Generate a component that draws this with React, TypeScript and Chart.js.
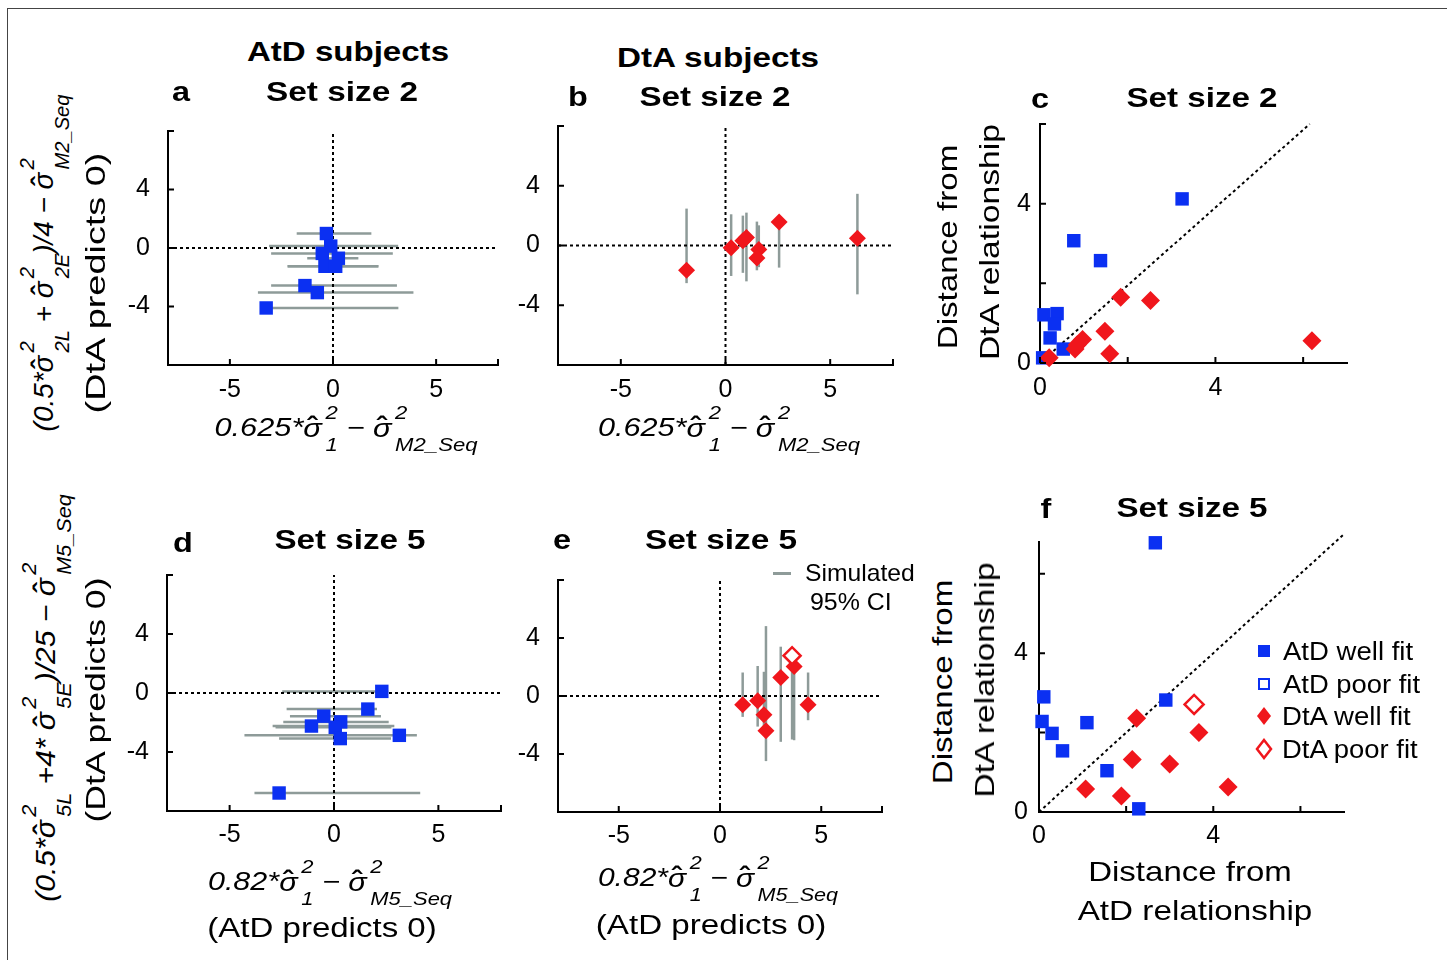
import React, { useEffect, useLayoutEffect, useRef, useState } from 'react';
import { Chart, registerables } from 'chart.js';
Chart.register(...registerables);

const FONT = "'Liberation Sans', Arial, Helvetica, sans-serif";
const BLUE = '#0b30f2';
const RED = '#f0161c';
const GRAY = '#8e9b99';

// ---------- panel a (AtD subjects, set size 2) ----------
const A_X = [-0.32, -0.11, -0.52, 0.26, -0.39, 0.13, -1.36, -0.76, -3.24];
const A_Y = [0.99, 0.13, -0.37, -0.7, -1.25, -1.25, -2.57, -3.05, -4.1];
const A_LO = [-1.76, -3.1, -3.0, -1.25, -2.2, -2.2, -3.0, -3.64, -3.5];
const A_HI = [1.86, 3.16, 2.9, 1.23, 2.2, 2.2, 3.1, 3.9, 3.17];

// ---------- panel b (DtA subjects, set size 2) ----------
const B_X = [-1.86, 0.27, 0.83, 1.0, 1.59, 1.5, 2.56, 6.3];
const B_Y = [-1.66, -0.15, 0.32, 0.54, -0.26, -0.84, 1.57, 0.49];
const B_LO = [-2.52, -2.04, -1.83, -2.4, -1.45, -1.66, -1.48, -3.27];
const B_HI = [2.47, 2.09, 2.0, 2.2, 1.35, 1.6, 1.9, 3.46];

// ---------- panel c (distances, set size 2) ----------
const C_ATD_X = [3.24, 0.77, 1.38, 0.09, 0.39, 0.33, 0.23, 0.53, 0.06];
const C_ATD_Y = [4.12, 3.07, 2.57, 1.21, 1.24, 0.98, 0.63, 0.35, 0.13];
const C_DTA_X = [0.21, 0.8, 0.97, 0.85, 1.48, 1.59, 1.84, 2.52, 6.2];
const C_DTA_Y = [0.13, 0.35, 0.59, 0.46, 0.8, 0.23, 1.65, 1.57, 0.56];
const C_DIAG_X = [0, 6.15];
const C_DIAG_Y = [0, 6];

// ---------- panel d (AtD subjects, set size 5) ----------
const D_X = [2.29, 1.62, -0.49, 0.32, -1.08, 0.06, 3.13, 0.3, -2.63];
const D_Y = [0.11, -1.09, -1.57, -1.96, -2.24, -2.33, -2.87, -3.09, -6.78];
const D_LO = [-2.48, -2.27, -2.11, -2.43, -2.94, -2.8, -4.29, -2.63, -3.81];
const D_HI = [2.6, 2.06, 2.25, 2.62, 2.89, 2.75, 3.97, 2.73, 4.13];

// ---------- panel e (DtA subjects, set size 5) ----------
const E_X = [1.12, 1.86, 2.17, 2.27, 3.0, 3.66, 4.35];
const E_Y = [-0.6, -0.33, -1.29, -2.4, 1.27, 2.04, -0.6];
const E_LO = [-1.44, -2.11, -2.1, -4.49, -3.16, -3.05, -1.67];
const E_HI = [1.62, 2.07, 1.67, 4.82, 3.4, 2.2, 1.62];
const E_POOR_X = [3.56];
const E_POOR_Y = [2.78];
const E_POOR_LO = [-3.0];
const E_POOR_HI = [2.9];

// ---------- panel f (distances, set size 5) ----------
const F_ATD_X = [2.67, 2.91, 0.11, 0.07, 0.3, 0.54, 1.1, 1.56, 2.29];
const F_ATD_Y = [6.78, 2.82, 2.9, 2.28, 1.98, 1.54, 2.25, 1.04, 0.08];
const F_DTA_X = [1.07, 1.89, 2.14, 2.24, 3.0, 3.67, 4.34];
const F_DTA_Y = [0.58, 0.4, 1.32, 2.36, 1.21, 2.0, 0.63];
const F_POOR_X = [3.56];
const F_POOR_Y = [2.71];
const F_DIAG_X = [0, 7];
const F_DIAG_Y = [0, 7];

// ---------- ticks ----------
const SYM_TICKS_X = [-8, -5, 0, 5, 8];
const SYM_LABELS_X = ['', '-5', '0', '5', ''];
const SYM_TICKS_Y = [-8, -4, 0, 4, 8];
const SYM_LABELS_Y = ['', '-4', '0', '4', ''];
const DIST_TICKS = [0, 2, 4, 6];
const DIST_LABELS = ['0', '', '4', ''];
const ZERO_RANGE = [-8, 8];
const ZERO_PAIR = [0, 0];

const pts = (xs: number[], ys: number[]) => xs.map((x, i) => ({ x, y: ys[i] }));

const markers = (xs: number[], ys: number[], style: string, r: number, fill: string, stroke: string, bw: number, order: number) => ({
  type: 'scatter', data: pts(xs, ys), pointStyle: style, pointRadius: r, pointHoverRadius: r,
  backgroundColor: fill, borderColor: stroke, borderWidth: bw, showLine: false, clip: false, order,
});
const lineSet = (data: { x: number; y: number }[], color: string, width: number, dash: number[], order: number) => ({
  type: 'scatter', data, showLine: true, borderColor: color, backgroundColor: color, borderWidth: width,
  borderDash: dash, pointRadius: 0, pointHoverRadius: 0, clip: false, order, tension: 0,
});
const hBars = (ys: number[], lo: number[], hi: number[]) =>
  ys.map((y, i) => lineSet([{ x: lo[i], y }, { x: hi[i], y }], GRAY, 2.5, [], 3));
const vBars = (xs: number[], lo: number[], hi: number[]) =>
  xs.map((x, i) => lineSet([{ x, y: lo[i] }, { x, y: hi[i] }], GRAY, 2.5, [], 3));
const zeroLines = () => [
  lineSet(pts(ZERO_RANGE, ZERO_PAIR), '#000', 2, [3, 3], 2),
  lineSet(pts(ZERO_PAIR, ZERO_RANGE), '#000', 2, [3, 3], 2),
];

const inwardTicks = {
  id: 'inwardTicks',
  afterDraw(chart: any) {
    const { ctx, chartArea } = chart;
    const xs = chart.scales.x;
    const ys = chart.scales.y;
    ctx.save();
    ctx.strokeStyle = '#000';
    ctx.lineWidth = 2;
    ctx.beginPath();
    xs.ticks.forEach((t: any) => {
      const px = xs.getPixelForValue(t.value);
      ctx.moveTo(px, chartArea.bottom);
      ctx.lineTo(px, chartArea.bottom - 6);
    });
    ys.ticks.forEach((t: any) => {
      const py = ys.getPixelForValue(t.value);
      ctx.moveTo(chartArea.left, py);
      ctx.lineTo(chartArea.left + 6, py);
    });
    ctx.stroke();
    ctx.restore();
  },
};

type PanelCfg = {
  l: number; t: number; r: number; b: number;
  xMin: number; xMax: number; yMin: number; yMax: number;
  xTicks: number[]; xLabels: string[]; yTicks: number[]; yLabels: string[];
  xPad: number; yPad: number; datasets: any[];
};

const ML = 80, MT = 25, MR = 25, MB = 60;

function Panel({ cfg }: { cfg: PanelCfg }) {
  const ref = useRef<HTMLCanvasElement>(null);
  const W = cfg.r - cfg.l + ML + MR;
  const H = cfg.b - cfg.t + MT + MB;
  useEffect(() => {
    const tickFont = { family: FONT, size: 25 };
    const chart = new Chart(ref.current as HTMLCanvasElement, {
      type: 'scatter',
      data: { datasets: cfg.datasets },
      options: {
        animation: false,
        responsive: false,
        maintainAspectRatio: false,
        devicePixelRatio: 1,
        events: [],
        layout: { padding: { left: 0, top: MT, right: MR, bottom: 0 } },
        plugins: { legend: { display: false }, tooltip: { enabled: false } },
        scales: {
          x: {
            type: 'linear', position: 'bottom', min: cfg.xMin, max: cfg.xMax,
            grid: { display: false, drawTicks: false },
            border: { display: true, color: '#000', width: 2 },
            ticks: {
              color: '#000', font: tickFont, padding: cfg.xPad, autoSkip: false, maxRotation: 0,
              callback: (v: any) => cfg.xLabels[cfg.xTicks.indexOf(Number(v))] ?? '',
            },
            afterBuildTicks: (s: any) => { s.ticks = cfg.xTicks.map((v) => ({ value: v })); },
            afterFit: (s: any) => { s.height = MB; },
          },
          y: {
            type: 'linear', position: 'left', min: cfg.yMin, max: cfg.yMax,
            grid: { display: false, drawTicks: false },
            border: { display: true, color: '#000', width: 2 },
            ticks: {
              color: '#000', font: tickFont, padding: cfg.yPad, autoSkip: false,
              callback: (v: any) => cfg.yLabels[cfg.yTicks.indexOf(Number(v))] ?? '',
            },
            afterBuildTicks: (s: any) => { s.ticks = cfg.yTicks.map((v) => ({ value: v })); },
            afterFit: (s: any) => { s.width = ML; },
          },
        },
      } as any,
      plugins: [inwardTicks],
    } as any);
    return () => chart.destroy();
  }, []);
  return (
    <canvas
      ref={ref}
      width={W}
      height={H}
      style={{ position: 'absolute', left: cfg.l - ML, top: cfg.t - MT, width: W, height: H }}
    />
  );
}

function Label(props: {
  x: number; y: number; w?: number; sx?: number; rot?: number; size?: number;
  bold?: boolean; italic?: boolean; anchor?: 'center' | 'left'; children: any;
}) {
  const { x, y, w, sx = 1.2, rot = 0, size = 25, bold = false, italic = false, anchor = 'center', children } = props;
  const ref = useRef<HTMLDivElement>(null);
  const [scale, setScale] = useState(sx);
  useLayoutEffect(() => {
    const measure = () => {
      const el = ref.current;
      if (el && w) {
        const ow = el.offsetWidth;
        if (ow > 0) setScale(w / ow);
      }
    };
    measure();
    const f: any = (document as any).fonts;
    if (f && f.ready) f.ready.then(measure);
  }, [w]);
  const tr = anchor === 'left'
    ? `translate(0,-50%) scaleX(${scale})`
    : `translate(-50%,-50%) rotate(${rot}deg) scaleX(${scale})`;
  return (
    <div
      ref={ref}
      style={{
        position: 'absolute', left: x, top: y, whiteSpace: 'nowrap', lineHeight: 1,
        fontSize: size, fontFamily: FONT, fontWeight: bold ? 700 : 400,
        fontStyle: italic ? 'italic' : 'normal', color: '#000', transform: tr,
        transformOrigin: anchor === 'left' ? '0 50%' : '50% 50%',
      }}
    >
      {children}
    </div>
  );
}

function SigmaHat() {
  return (
    <span style={{ position: 'relative', display: 'inline-block' }}>
      {'σ'}
      <span style={{ position: 'absolute', left: '0.12em', top: '-0.08em', fontStyle: 'normal', fontWeight: 700 }}>{'\u02C6'}</span>
    </span>
  );
}

type Part = string | { sup: string; sub: string };
function MathText({ parts, size }: { parts: Part[]; size: number }) {
  const s = size * 0.72;
  return (
    <>
      {parts.map((p, i) =>
        typeof p === 'string' ? (
          <span key={i}>{p}</span>
        ) : (
          <span key={i}>
            <SigmaHat />
            <span
              style={{
                display: 'inline-flex', flexDirection: 'column', fontSize: s, lineHeight: `${s}px`,
                rowGap: 0.8 * s, verticalAlign: 0.7 * size, marginLeft: 3,
              }}
            >
              <span>{p.sup}</span>
              <span>{p.sub}</span>
            </span>
          </span>
        )
      )}
    </>
  );
}

const XLAB_2: Part[] = ['0.625*', { sup: '2', sub: '1' }, ' \u2212 ', { sup: '2', sub: 'M2_Seq' }];
const XLAB_5: Part[] = ['0.82*', { sup: '2', sub: '1' }, ' \u2212 ', { sup: '2', sub: 'M5_Seq' }];
const YLAB_2: Part[] = ['(0.5*', { sup: '2', sub: '2L' }, ' + ', { sup: '2', sub: '2E' }, ')/4 \u2212 ', { sup: '2', sub: 'M2_Seq' }];
const YLAB_5: Part[] = ['(0.5*', { sup: '2', sub: '5L' }, ' +4* ', { sup: '2', sub: '5E' }, ')/25 \u2212 ', { sup: '2', sub: 'M5_Seq' }];

const PANELS: PanelCfg[] = [
  {
    l: 168, t: 123, r: 498, b: 365, xMin: -8, xMax: 8, yMin: -8, yMax: 8,
    xTicks: SYM_TICKS_X, xLabels: SYM_LABELS_X, yTicks: SYM_TICKS_Y, yLabels: SYM_LABELS_Y, xPad: 10, yPad: 18,
    datasets: [markers(A_X, A_Y, 'rect', 9.5, BLUE, BLUE, 0, 1), ...zeroLines(), ...hBars(A_Y, A_LO, A_HI)],
  },
  {
    l: 558, t: 118, r: 893, b: 365, xMin: -8, xMax: 8, yMin: -8, yMax: 8,
    xTicks: SYM_TICKS_X, xLabels: SYM_LABELS_X, yTicks: SYM_TICKS_Y, yLabels: SYM_LABELS_Y, xPad: 10, yPad: 18,
    datasets: [markers(B_X, B_Y, 'rectRot', 8.5, RED, RED, 0, 0), ...zeroLines(), ...vBars(B_X, B_LO, B_HI)],
  },
  {
    l: 1040, t: 124, r: 1347, b: 363, xMin: 0, xMax: 7, yMin: 0, yMax: 6,
    xTicks: DIST_TICKS, xLabels: DIST_LABELS, yTicks: DIST_TICKS, yLabels: DIST_LABELS, xPad: 10, yPad: 9,
    datasets: [
      markers(C_DTA_X, C_DTA_Y, 'rectRot', 9.5, RED, RED, 0, 0),
      markers(C_ATD_X, C_ATD_Y, 'rect', 9.5, BLUE, BLUE, 0, 1),
      lineSet(pts(C_DIAG_X, C_DIAG_Y), '#000', 2, [3, 3], 2),
    ],
  },
  {
    l: 167, t: 567, r: 501, b: 811, xMin: -8, xMax: 8, yMin: -8, yMax: 8,
    xTicks: SYM_TICKS_X, xLabels: SYM_LABELS_X, yTicks: SYM_TICKS_Y, yLabels: SYM_LABELS_Y, xPad: 9, yPad: 18,
    datasets: [markers(D_X, D_Y, 'rect', 9.5, BLUE, BLUE, 0, 1), ...zeroLines(), ...hBars(D_Y, D_LO, D_HI)],
  },
  {
    l: 558, t: 572, r: 882, b: 812, xMin: -8, xMax: 8, yMin: -8, yMax: 8,
    xTicks: SYM_TICKS_X, xLabels: SYM_LABELS_X, yTicks: SYM_TICKS_Y, yLabels: SYM_LABELS_Y, xPad: 9, yPad: 18,
    datasets: [
      markers(E_POOR_X, E_POOR_Y, 'rectRot', 8.5, '#fff', RED, 2.5, 0),
      markers(E_X, E_Y, 'rectRot', 8.5, RED, RED, 0, 1),
      ...zeroLines(),
      ...vBars(E_X, E_LO, E_HI),
      ...vBars(E_POOR_X, E_POOR_LO, E_POOR_HI),
    ],
  },
  {
    l: 1039, t: 541, r: 1344, b: 812, xMin: 0, xMax: 7, yMin: 0, yMax: 6.8,
    xTicks: DIST_TICKS, xLabels: DIST_LABELS, yTicks: DIST_TICKS, yLabels: DIST_LABELS, xPad: 9, yPad: 11,
    datasets: [
      markers(F_POOR_X, F_POOR_Y, 'rectRot', 9.5, '#fff', RED, 2.5, 0),
      markers(F_DTA_X, F_DTA_Y, 'rectRot', 9.5, RED, RED, 0, 0),
      markers(F_ATD_X, F_ATD_Y, 'rect', 9.5, BLUE, BLUE, 0, 1),
      lineSet(pts(F_DIAG_X, F_DIAG_Y), '#000', 2, [3, 3], 2),
    ],
  },
];

function Diamond({ x, y, hollow }: { x: number; y: number; hollow?: boolean }) {
  return (
    <svg width={18} height={22} style={{ position: 'absolute', left: x - 9, top: y - 11 }}>
      <polygon
        points="9,2 16,11 9,20 2,11"
        fill={hollow ? '#fff' : RED}
        stroke={RED}
        strokeWidth={hollow ? 2.5 : 0}
      />
    </svg>
  );
}

export default function App() {
  return (
    <div style={{ position: 'absolute', left: 0, top: 0, width: 1447, height: 960, background: '#fff', overflow: 'hidden', fontFamily: FONT }}>
      <div style={{ position: 'absolute', left: 7, top: 8, width: 1450, height: 960, borderTop: '1.5px solid #444', borderLeft: '1.5px solid #444' }} />
      {PANELS.map((p, i) => (
        <Panel key={i} cfg={p} />
      ))}

      {/* titles */}
      <Label x={348} y={52} w={202} size={27} bold>AtD subjects</Label>
      <Label x={342} y={92} w={152} size={27} bold>Set size 2</Label>
      <Label x={718} y={58} w={202} size={27} bold>DtA subjects</Label>
      <Label x={715} y={97} w={151} size={27} bold>Set size 2</Label>
      <Label x={1202} y={98} w={151} size={27} bold>Set size 2</Label>
      <Label x={350} y={540} w={151} size={27} bold>Set size 5</Label>
      <Label x={721} y={540} w={152} size={27} bold>Set size 5</Label>
      <Label x={1192} y={508} w={151} size={27} bold>Set size 5</Label>

      {/* panel letters */}
      <Label x={181} y={92} size={27} bold>a</Label>
      <Label x={578} y={97} size={27} bold>b</Label>
      <Label x={1040} y={99} size={27} bold>c</Label>
      <Label x={183} y={543} size={27} bold>d</Label>
      <Label x={562} y={540} size={27} bold>e</Label>
      <Label x={1046} y={509} size={27} bold>f</Label>

      {/* x labels */}
      <Label x={346} y={429} w={263} size={25} italic><MathText parts={XLAB_2} size={25} /></Label>
      <Label x={729} y={429} w={262} size={25} italic><MathText parts={XLAB_2} size={25} /></Label>
      <Label x={330} y={883} w={244} size={25} italic><MathText parts={XLAB_5} size={25} /></Label>
      <Label x={718} y={879} w={240} size={25} italic><MathText parts={XLAB_5} size={25} /></Label>
      <Label x={322} y={928} w={230} size={27}>(AtD predicts 0)</Label>
      <Label x={711} y={925} w={231} size={27}>(AtD predicts 0)</Label>
      <Label x={1190} y={872} w={204} size={28}>Distance from</Label>
      <Label x={1195} y={911} w={235} size={28}>AtD relationship</Label>

      {/* y labels */}
      <Label x={45} y={263} w={337} rot={-90} size={27} italic><MathText parts={YLAB_2} size={27} /></Label>
      <Label x={96} y={283} w={261} rot={-90} size={28}>(DtA predicts 0)</Label>
      <Label x={47} y={698} w={407} rot={-90} size={27} italic><MathText parts={YLAB_5} size={27} /></Label>
      <Label x={96} y={700} w={245} rot={-90} size={28}>(DtA predicts 0)</Label>
      <Label x={948} y={247} w={205} rot={-90} size={28}>Distance from</Label>
      <Label x={990} y={242} w={236} rot={-90} size={28}>DtA relationship</Label>
      <Label x={943} y={682} w={205} rot={-90} size={28}>Distance from</Label>
      <Label x={985} y={680} w={235} rot={-90} size={28}>DtA relationship</Label>

      {/* legend e */}
      <div style={{ position: 'absolute', left: 773, top: 572, width: 18, height: 2.5, background: GRAY }} />
      <Label x={805} y={573} w={110} size={24} anchor="left">Simulated</Label>
      <Label x={810} y={602} w={82} size={24} anchor="left">95% CI</Label>

      {/* legend f */}
      <div style={{ position: 'absolute', left: 1258, top: 645, width: 12, height: 12, background: BLUE }} />
      <div style={{ position: 'absolute', left: 1258, top: 678, width: 12, height: 12, boxSizing: 'border-box', border: `2.5px solid ${BLUE}`, background: '#fff' }} />
      <Diamond x={1264} y={716} />
      <Diamond x={1264} y={749} hollow />
      <Label x={1283} y={651} w={130} size={25} anchor="left">AtD well fit</Label>
      <Label x={1283} y={684} w={137} size={25} anchor="left">AtD poor fit</Label>
      <Label x={1282} y={716} w={129} size={25} anchor="left">DtA well fit</Label>
      <Label x={1282} y={749} w={136} size={25} anchor="left">DtA poor fit</Label>
    </div>
  );
}
